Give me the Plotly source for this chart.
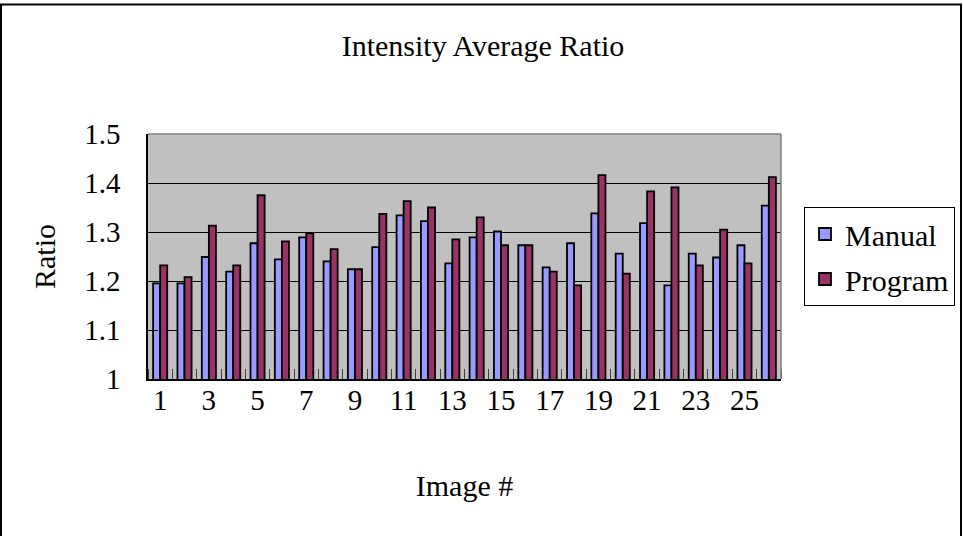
import plotly.graph_objects as go

images = list(range(1, 27))
manual = [1.195, 1.195, 1.249, 1.219, 1.277, 1.244, 1.289, 1.240, 1.224, 1.269,
          1.334, 1.322, 1.236, 1.289, 1.301, 1.273, 1.228, 1.277, 1.338, 1.256,
          1.318, 1.191, 1.256, 1.248, 1.273, 1.354]
program = [1.232, 1.208, 1.313, 1.232, 1.375, 1.281, 1.297, 1.265, 1.224, 1.337,
           1.363, 1.350, 1.285, 1.330, 1.273, 1.273, 1.219, 1.191, 1.416, 1.215,
           1.383, 1.391, 1.232, 1.305, 1.236, 1.412]
x_tickvals = [1, 3, 5, 7, 9, 11, 13, 15, 17, 19, 21, 23, 25]
x_ticktext = [str(v) for v in x_tickvals]
y_tickvals = [1.0, 1.1, 1.2, 1.3, 1.4, 1.5]
y_ticktext = ["1", "1.1", "1.2", "1.3", "1.4", "1.5"]

FONT = "Liberation Serif, Times New Roman, serif"
W, H = 963, 536
L, R, T, B = 148, 182, 134, 157
PW, PH = W - L - R, H - T - B

def px_x(p):
    return (p - L) / PW

def px_y(p):
    return (H - B - p) / PH

fig = go.Figure()
fig.add_trace(go.Bar(x=images, y=manual, name="Manual", legendgroup="m",
                     marker=dict(color="#9999FF", line=dict(color="black", width=1.8))))
fig.add_trace(go.Bar(x=images, y=program, name="Program", legendgroup="p",
                     marker=dict(color="#993366", line=dict(color="black", width=1.8))))

fig.update_layout(
    width=W, height=H,
    margin=dict(l=L, r=R, t=T, b=B, autoexpand=False),
    paper_bgcolor="white", plot_bgcolor="#C0C0C0",
    barmode="group", bargap=0.42, bargroupgap=0,
    font=dict(family=FONT, color="black", size=29),
    title=dict(text="Intensity Average Ratio", x=483 / W, xanchor="center",
               y=1 - 45 / H, yanchor="middle", font=dict(size=30, family=FONT)),
    showlegend=True,
    legend=dict(x=px_x(804), y=px_y(207), xanchor="left", yanchor="top",
                bordercolor="black", borderwidth=1, bgcolor="white",
                font=dict(size=30, family=FONT), tracegroupgap=3),
    xaxis=dict(range=[0.5, 26.5], tickvals=x_tickvals, ticktext=x_ticktext,
               ticks="", showgrid=False, showline=True, linecolor="black", linewidth=1.5,
               ticklabelstandoff=-6, tickfont=dict(size=29),
               minor=dict(tickvals=[i + 0.5 for i in range(0, 27)], ticks="inside",
                          ticklen=10, tickcolor="#404040", tickwidth=1, showgrid=False),
               title=dict(text="Image #", font=dict(size=30), standoff=60),
               zeroline=False),
    yaxis=dict(range=[1.0, 1.5], tickvals=y_tickvals, ticktext=y_ticktext,
               ticks="inside", ticklen=10, tickcolor="black",
               showgrid=True, gridcolor="black", gridwidth=1,
               showline=True, linecolor="black", linewidth=1.5,
               ticklabelstandoff=20, tickfont=dict(size=29),
               title=dict(text="Ratio", font=dict(size=30), standoff=20),
               zeroline=False),
    shapes=[
        dict(type="line", xref="paper", yref="paper", x0=0, x1=1, y0=1, y1=1,
             line=dict(color="#808080", width=1.5), layer="above"),
        dict(type="line", xref="paper", yref="paper", x0=1, x1=1, y0=0, y1=1,
             line=dict(color="#808080", width=1.5), layer="above"),
        dict(type="rect", xref="paper", yref="paper",
             x0=px_x(1), x1=px_x(961), y0=px_y(545), y1=px_y(4.5),
             line=dict(color="black", width=2), layer="above"),
    ],
)

fig.write_html("out.html")
